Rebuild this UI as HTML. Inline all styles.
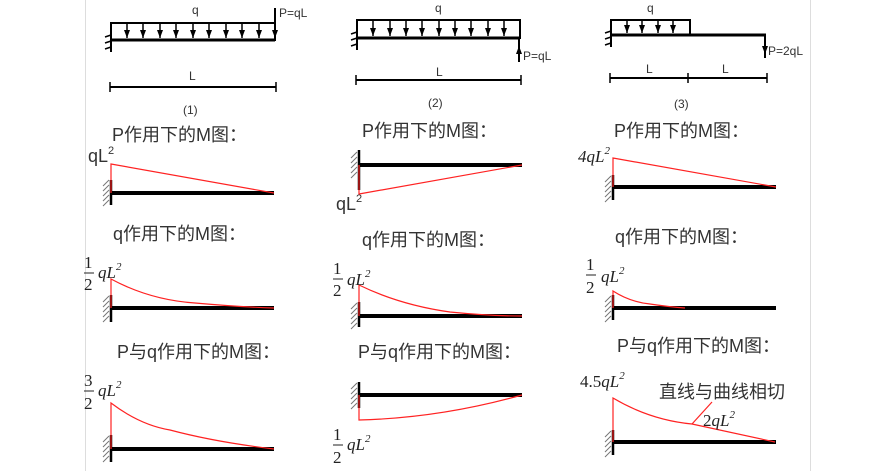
<!DOCTYPE html>
<html><head><meta charset="utf-8"><style>
html,body{margin:0;padding:0;background:#fff;}
svg{display:block;}
.t{font-family:"Liberation Sans","Noto Sans CJK SC",sans-serif;font-size:18px;fill:#333;}
.s{font-family:"Liberation Sans",sans-serif;font-size:12px;fill:#333;}
.m{font-family:"Liberation Serif",serif;font-style:italic;font-size:17px;fill:#222;}
.n{font-family:"Liberation Serif",serif;font-size:17px;fill:#222;}
.sup{font-size:11px;}
</style></head><body>
<svg width="893" height="471" viewBox="0 0 893 471" xmlns="http://www.w3.org/2000/svg">
<defs>
<marker id="ar" markerWidth="8" markerHeight="6" refX="8" refY="3" orient="auto" markerUnits="userSpaceOnUse"><path d="M0,0 L8,3 L0,6 Z" fill="#000"/></marker>
<g id="hw"><path d="M0,0 l-6,6 M0,5 l-6,6 M0,10 l-6,6 M0,15 l-6,6 M0,20 l-6,6" stroke="#777" stroke-width="1"/></g>
</defs>
<line x1="85.5" y1="0" x2="85.5" y2="471" stroke="#ddd"/>
<line x1="810.5" y1="0" x2="810.5" y2="471" stroke="#ddd"/>
<g stroke="#000" fill="none">
<!-- Panel 1 top -->
<rect x="111" y="23" width="164" height="17" stroke-width="2"/>
<line x1="111" y1="40" x2="275" y2="40" stroke-width="3"/>
<g stroke-width="1.5">
<line x1="127" y1="23" x2="127" y2="38" marker-end="url(#ar)"/><line x1="143" y1="23" x2="143" y2="38" marker-end="url(#ar)"/><line x1="160" y1="23" x2="160" y2="38" marker-end="url(#ar)"/><line x1="176" y1="23" x2="176" y2="38" marker-end="url(#ar)"/><line x1="193" y1="23" x2="193" y2="38" marker-end="url(#ar)"/><line x1="209" y1="23" x2="209" y2="38" marker-end="url(#ar)"/><line x1="226" y1="23" x2="226" y2="38" marker-end="url(#ar)"/><line x1="242" y1="23" x2="242" y2="38" marker-end="url(#ar)"/><line x1="259" y1="23" x2="259" y2="38" marker-end="url(#ar)"/>
</g>
<line x1="275" y1="8" x2="275" y2="38" stroke-width="2" marker-end="url(#ar)"/>
<line x1="111" y1="30" x2="111" y2="52" stroke-width="2"/>
<path d="M111,35 l-6,2 M111,41 l-6,2 M111,47 l-6,2" stroke-width="1.5"/>
<line x1="110" y1="87" x2="276" y2="87" stroke-width="2"/>
<path d="M110,82 v10 M276,82 v10" stroke-width="1.5"/>
<!-- Panel 2 top -->
<rect x="357" y="20" width="163" height="18" stroke-width="2"/>
<line x1="357" y1="38" x2="520" y2="38" stroke-width="3"/>
<g stroke-width="1.5">
<line x1="373" y1="20" x2="373" y2="36" marker-end="url(#ar)"/><line x1="390" y1="20" x2="390" y2="36" marker-end="url(#ar)"/><line x1="406" y1="20" x2="406" y2="36" marker-end="url(#ar)"/><line x1="422" y1="20" x2="422" y2="36" marker-end="url(#ar)"/><line x1="439" y1="20" x2="439" y2="36" marker-end="url(#ar)"/><line x1="455" y1="20" x2="455" y2="36" marker-end="url(#ar)"/><line x1="471" y1="20" x2="471" y2="36" marker-end="url(#ar)"/><line x1="488" y1="20" x2="488" y2="36" marker-end="url(#ar)"/><line x1="504" y1="20" x2="504" y2="36" marker-end="url(#ar)"/>
</g>
<line x1="519" y1="38" x2="519" y2="62" stroke-width="2"/>
<line x1="519" y1="62" x2="519" y2="46" stroke-width="2" marker-end="url(#ar)"/>
<line x1="357" y1="28" x2="357" y2="50" stroke-width="2"/>
<path d="M357,32 l-6,2 M357,38 l-6,2 M357,44 l-6,2" stroke-width="1.5"/>
<line x1="356" y1="80" x2="521" y2="80" stroke-width="2"/>
<path d="M356,75 v10 M521,75 v10" stroke-width="1.5"/>
<!-- Panel 3 top -->
<rect x="611" y="20" width="79" height="15" stroke-width="2"/>
<line x1="611" y1="35" x2="766" y2="35" stroke-width="3"/>
<g stroke-width="1.5">
<line x1="627" y1="20" x2="627" y2="33" marker-end="url(#ar)"/><line x1="642" y1="20" x2="642" y2="33" marker-end="url(#ar)"/><line x1="658" y1="20" x2="658" y2="33" marker-end="url(#ar)"/><line x1="673" y1="20" x2="673" y2="33" marker-end="url(#ar)"/>
</g>
<line x1="765" y1="35" x2="765" y2="58" stroke-width="2"/>
<line x1="765" y1="40" x2="765" y2="54" stroke-width="2" marker-end="url(#ar)"/>
<line x1="611" y1="27" x2="611" y2="47" stroke-width="2"/>
<path d="M611,31 l-6,2 M611,37 l-6,2 M611,43 l-6,2" stroke-width="1.5"/>
<line x1="610" y1="78" x2="767" y2="78" stroke-width="2"/>
<path d="M610,73 v10 M688,73 v10 M767,73 v10" stroke-width="1.5"/>
</g>
<text x="192" y="14" class="s">q</text>
<text x="279" y="17" class="s">P=qL</text>
<text x="189" y="80" class="s">L</text>
<text x="183" y="114" class="s">(1)</text>
<text x="435" y="12" class="s">q</text>
<text x="523" y="60" class="s">P=qL</text>
<text x="436" y="76" class="s">L</text>
<text x="428" y="107" class="s">(2)</text>
<text x="647" y="12" class="s">q</text>
<text x="768" y="55" class="s">P=2qL</text>
<text x="646" y="73" class="s">L</text>
<text x="722" y="73" class="s">L</text>
<text x="674" y="108" class="s">(3)</text>

<!-- titles -->
<text x="112" y="141" class="t">P作用下的M图：</text>
<text x="362" y="137" class="t">P作用下的M图：</text>
<text x="614" y="137" class="t">P作用下的M图：</text>
<text x="113" y="240" class="t">q作用下的M图：</text>
<text x="362" y="246" class="t">q作用下的M图：</text>
<text x="615" y="243" class="t">q作用下的M图：</text>
<text x="117" y="358" class="t">P与q作用下的M图：</text>
<text x="358" y="358" class="t">P与q作用下的M图：</text>
<text x="617" y="352" class="t">P与q作用下的M图：</text>

<!-- walls + beams -->
<g stroke="#000">
<line x1="111" y1="193" x2="274" y2="193" stroke-width="4"/><line x1="111" y1="180" x2="111" y2="205" stroke-width="2.5"/>
<line x1="111" y1="308" x2="274" y2="308" stroke-width="4"/><line x1="111" y1="295" x2="111" y2="322" stroke-width="2.5"/>
<line x1="111" y1="449" x2="274" y2="449" stroke-width="4"/><line x1="111" y1="435" x2="111" y2="462" stroke-width="2.5"/>
<line x1="359" y1="165" x2="522" y2="165" stroke-width="4"/><line x1="359" y1="150" x2="359" y2="190" stroke-width="2.5"/>
<line x1="359" y1="316" x2="522" y2="316" stroke-width="4"/><line x1="359" y1="302" x2="359" y2="327" stroke-width="2.5"/>
<line x1="359" y1="395" x2="522" y2="395" stroke-width="4"/><line x1="359" y1="382" x2="359" y2="408" stroke-width="2.5"/>
<line x1="613" y1="187" x2="776" y2="187" stroke-width="4"/><line x1="613" y1="175" x2="613" y2="200" stroke-width="2.5"/>
<line x1="613" y1="308" x2="776" y2="308" stroke-width="4"/><line x1="613" y1="295" x2="613" y2="320" stroke-width="2.5"/>
<line x1="613" y1="442" x2="776" y2="442" stroke-width="4"/><line x1="613" y1="430" x2="613" y2="455" stroke-width="2.5"/>
</g>
<use href="#hw" x="109" y="180"/><use href="#hw" x="109" y="296"/><use href="#hw" x="109" y="436"/>
<use href="#hw" x="357" y="152"/><use href="#hw" x="357" y="303"/><use href="#hw" x="357" y="383"/>
<use href="#hw" x="611" y="176"/><use href="#hw" x="611" y="296"/><use href="#hw" x="611" y="431"/>

<!-- red moment diagrams -->
<g stroke="#f22" stroke-width="1.2" fill="none">
<path d="M111,193 V164 L274,193"/>
<path d="M111,308 V279 Q150,300 195,303 Q240,307 274,308"/>
<path d="M111,449 V403 Q140,425 170,430 Q215,442 274,449"/>
<path d="M359,165 V194 L522,165"/>
<path d="M359,316 V285 Q400,305 450,312 Q490,316 522,316"/>
<path d="M359,395 V420 Q440,418 522,395"/>
<path d="M613,187 V158 L776,187"/>
<path d="M613,308 V291 Q630,302 650,304 Q670,307 685,308"/>
<path d="M613,442 V398 Q650,420 692,424 L775,442"/>
<path d="M692,424 L712,402"/>
</g>

<!-- labels -->
<text x="88" y="162" class="t">qL<tspan class="sup" dy="-8">2</tspan></text>
<text x="336" y="210" class="t">qL<tspan class="sup" dy="-8">2</tspan></text>
<text x="578" y="162" class="m">4qL<tspan class="sup" dy="-8">2</tspan></text>

<g class="n">
<text x="84" y="268">1</text><text x="84" y="290">2</text>
<text x="84" y="386">3</text><text x="84" y="409">2</text>
<text x="333" y="274">1</text><text x="333" y="296">2</text>
<text x="333" y="440">1</text><text x="333" y="463">2</text>
<text x="586" y="270">1</text><text x="586" y="293">2</text>
</g>
<g stroke="#222" stroke-width="1">
<line x1="84" y1="273" x2="94" y2="273"/><line x1="84" y1="391" x2="94" y2="391"/>
<line x1="333" y1="279" x2="343" y2="279"/><line x1="333" y1="445" x2="343" y2="445"/>
<line x1="586" y1="275" x2="596" y2="275"/>
</g>
<text x="98" y="278" class="m">qL<tspan class="sup" dy="-8">2</tspan></text>
<text x="98" y="396" class="m">qL<tspan class="sup" dy="-8">2</tspan></text>
<text x="347" y="285" class="m">qL<tspan class="sup" dy="-8">2</tspan></text>
<text x="347" y="450" class="m">qL<tspan class="sup" dy="-8">2</tspan></text>
<text x="601" y="282" class="m">qL<tspan class="sup" dy="-8">2</tspan></text>
<text x="580" y="387" class="m"><tspan font-style="normal">4.5</tspan>qL<tspan class="sup" dy="-8">2</tspan></text>
<text x="659" y="398" class="t">直线与曲线相切</text>
<text x="703" y="426" class="m"><tspan font-style="normal">2</tspan>qL<tspan class="sup" dy="-8">2</tspan></text>
</svg>
</body></html>
